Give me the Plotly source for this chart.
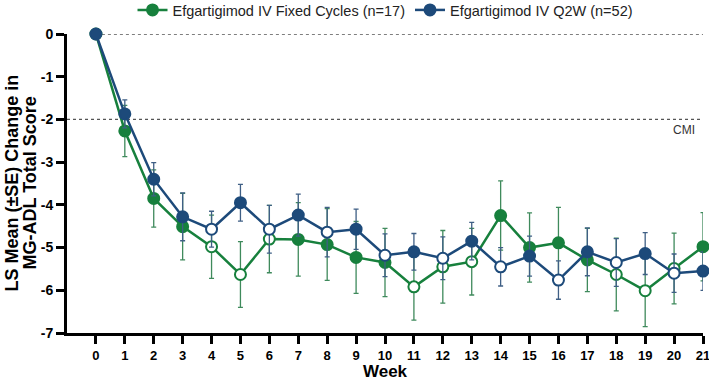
import plotly.graph_objects as go

weeks = list(range(0, 22))
fixed_mean = [0, -2.27, -3.85, -4.51, -4.98, -5.63, -4.80, -4.81, -4.93, -5.23, -5.35,
              -5.92, -5.45, -5.33, -4.25, -5.00, -4.89, -5.29, -5.63, -6.01, -5.49, -4.98]
fixed_se = [0, 0.60, 0.67, 0.78, 0.74, 0.77, 0.79, 0.86, 0.84, 0.84, 0.80,
            0.78, 0.85, 0.78, 0.81, 0.81, 0.83, 0.74, 0.85, 0.84, 0.83, 0.80]
fixed_open = [4, 5, 6, 11, 12, 13, 18, 19, 20]

q2w_mean = [0, -1.87, -3.40, -4.28, -4.57, -3.95, -4.57, -4.24, -4.64, -4.57, -5.18,
            -5.10, -5.25, -4.85, -5.45, -5.20, -5.76, -5.10, -5.35, -5.14, -5.60, -5.55]
q2w_se = [0, 0.33, 0.39, 0.56, 0.42, 0.43, 0.56, 0.49, 0.58, 0.47, 0.50,
          0.43, 0.50, 0.44, 0.45, 0.47, 0.45, 0.56, 0.56, 0.49, 0.45, 0.45]
q2w_open = [4, 6, 8, 10, 12, 14, 16, 18, 20]

y_title_lines = ["LS Mean (±SE) Change in", "MG-ADL Total Score"]

GREEN = "#17803d"
BLUE = "#1d4a7a"
FONT = "Arial, Liberation Sans, sans-serif"

fig = go.Figure()

def add_series(name, mean, se, opens, color, ebcolor):
    fills = ["white" if w in opens else color for w in weeks]
    fig.add_trace(go.Scatter(
        x=weeks, y=mean, name=name, mode="lines+markers",
        line=dict(color=color, width=2.5),
        marker=dict(size=11, color=fills, line=dict(color=color, width=2)),
        error_y=dict(type="data", array=se, visible=True, color=ebcolor,
                     thickness=1.3, width=2.5),
        cliponaxis=False,
    ))

add_series("Efgartigimod IV Fixed Cycles (n=17)", fixed_mean, fixed_se, fixed_open, GREEN, "#3f8a5c")
add_series("Efgartigimod IV Q2W (n=52)", q2w_mean, q2w_se, q2w_open, BLUE, "#3f5f85")

# reference lines
fig.add_shape(type="line", xref="x", yref="y", x0=0, x1=21.2, y0=0, y1=0,
              line=dict(color="#555555", width=1.5, dash="dot"), layer="below")
fig.add_shape(type="line", xref="x", yref="y", x0=-1, x1=21.2, y0=-2, y1=-2,
              line=dict(color="#555555", width=1.2, dash="dot"), layer="below")
fig.add_annotation(x=0.99, xref="paper", y=-2.25, yref="y", text="CMI", showarrow=False,
                   xanchor="right", yanchor="middle", font=dict(size=12, color="#333333", family=FONT))

# y-axis title (two lines, placed individually)
for xp, line in zip([-0.088, -0.0597], y_title_lines):
    fig.add_annotation(x=xp, xref="paper", y=0.5, yref="paper", text=f"<b>{line}</b>",
                       textangle=-90, showarrow=False, xanchor="center", yanchor="middle",
                       font=dict(size=18, color="black", family=FONT))

fig.update_layout(
    width=709, height=381,
    margin=dict(l=67, r=6, t=34, b=48),
    plot_bgcolor="white", paper_bgcolor="white",
    font=dict(family=FONT, color="black"),
    showlegend=True,
    legend=dict(orientation="h", x=0.103, xanchor="left",
                yref="container", y=1 - 10 / 381, yanchor="middle",
                font=dict(size=14.5, color="#222222"), itemwidth=30, tracegroupgap=0,
                bgcolor="rgba(0,0,0,0)"),
    xaxis=dict(range=[-1, 21], tickmode="array", tickvals=weeks,
               ticktext=[f"<b>{w}</b>" for w in weeks], automargin=False,
               ticklabeloverflow="allow",
               showgrid=False, zeroline=False, showline=True, linecolor="black", linewidth=3,
               ticks="outside", ticklen=8, tickwidth=3, tickcolor="black",
               tickfont=dict(size=13, color="black"),
               title=dict(text="<b>Week</b>", font=dict(size=17), standoff=0)),
    yaxis=dict(range=[-7, 0], tickmode="array", tickvals=list(range(0, -8, -1)),
               ticktext=[f"<b>{v}</b>" for v in range(0, -8, -1)], automargin=False,
               ticklabeloverflow="allow",
               showgrid=False, zeroline=False, showline=True, linecolor="black", linewidth=3,
               ticks="outside", ticklen=8, tickwidth=3, tickcolor="black",
               tickfont=dict(size=14, color="black")),
)

fig.write_html("out.html", config={"displayModeBar": False},
               post_script="document.body.style.margin='0';document.body.style.overflow='hidden';")
